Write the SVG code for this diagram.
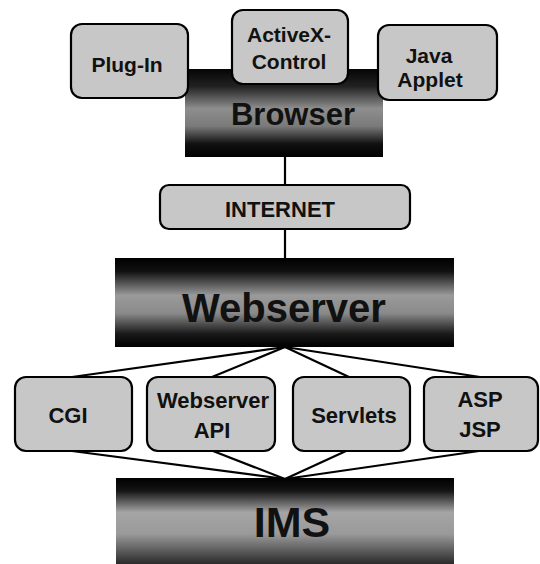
<svg xmlns="http://www.w3.org/2000/svg" width="540" height="564" viewBox="0 0 540 564">
<style>
.lb{fill:#c7c7c7;stroke:#000;stroke-width:2.2}
.dk{stroke:none}
.t{font-family:"Liberation Sans",Arial,sans-serif;font-weight:bold;fill:#111;text-anchor:middle}
.s{font-size:21px}
.m{font-size:22px}
.c{stroke:#000;stroke-width:2.2;fill:none}
</style>
<defs>
<linearGradient id="gB" x1="0" y1="0" x2="0" y2="1">
<stop offset="0" stop-color="#050505"/>
<stop offset="0.2" stop-color="#222"/>
<stop offset="0.45" stop-color="#8e8e8e"/>
<stop offset="0.65" stop-color="#7a7a7a"/>
<stop offset="0.85" stop-color="#111"/>
<stop offset="1" stop-color="#000"/>
</linearGradient>
<linearGradient id="gW" x1="0" y1="0" x2="0" y2="1">
<stop offset="0" stop-color="#000"/>
<stop offset="0.15" stop-color="#111"/>
<stop offset="0.42" stop-color="#9a9a9a"/>
<stop offset="0.62" stop-color="#8a8a8a"/>
<stop offset="0.85" stop-color="#1a1a1a"/>
<stop offset="1" stop-color="#000"/>
</linearGradient>
<linearGradient id="gI" x1="0" y1="0" x2="0" y2="1">
<stop offset="0" stop-color="#000"/>
<stop offset="0.15" stop-color="#151515"/>
<stop offset="0.4" stop-color="#a5a5a5"/>
<stop offset="0.65" stop-color="#9a9a9a"/>
<stop offset="1" stop-color="#2a2a2a"/>
</linearGradient>
</defs>
<rect width="540" height="564" fill="#fff"/>
<g id="connectors">
<line class="c" x1="285" y1="157" x2="285" y2="185"/>
<line class="c" x1="285" y1="229" x2="285" y2="258"/>
<line class="c" x1="285" y1="347" x2="72" y2="377"/>
<line class="c" x1="285" y1="347" x2="212" y2="377"/>
<line class="c" x1="285" y1="347" x2="349" y2="377"/>
<line class="c" x1="285" y1="347" x2="480" y2="377"/>
<line class="c" x1="72" y1="451" x2="285" y2="479"/>
<line class="c" x1="213" y1="451" x2="285" y2="479"/>
<line class="c" x1="346" y1="451" x2="285" y2="479"/>
<line class="c" x1="479" y1="451" x2="285" y2="479"/>
</g>
<g id="browser">
<rect class="dk" x="185" y="69" width="198" height="88" fill="url(#gB)"/>
<text class="t" x="293" y="125" font-size="31">Browser</text>
</g>
<g id="plugin">
<rect class="lb" x="71" y="24" width="117" height="74" rx="11"/>
<text class="t s" x="127" y="72">Plug-In</text>
</g>
<g id="activex">
<rect class="lb" x="232" y="10" width="116" height="74" rx="11"/>
<text class="t s" x="289" y="42">ActiveX-</text>
<text class="t s" x="289" y="69">Control</text>
</g>
<g id="java">
<rect class="lb" x="378" y="25" width="119" height="75" rx="11"/>
<text class="t s" x="429" y="63">Java</text>
<text class="t s" x="430" y="87">Applet</text>
</g>
<g id="internet">
<rect class="lb" x="160" y="185" width="250" height="44" rx="9"/>
<text class="t" x="280" y="217" font-size="22">INTERNET</text>
</g>
<g id="webserver">
<rect class="dk" x="115" y="258" width="339" height="89" fill="url(#gW)"/>
<text class="t" x="284" y="322" font-size="40">Webserver</text>
</g>
<g id="cgi">
<rect class="lb" x="15" y="377" width="117" height="74" rx="11"/>
<text class="t m" x="68" y="423">CGI</text>
</g>
<g id="api">
<rect class="lb" x="147" y="377" width="128" height="74" rx="11"/>
<text class="t m" x="213" y="408">Webserver</text>
<text class="t m" x="212" y="438">API</text>
</g>
<g id="servlets">
<rect class="lb" x="293" y="377" width="117" height="74" rx="11"/>
<text class="t m" x="354" y="423">Servlets</text>
</g>
<g id="asp">
<rect class="lb" x="424" y="377" width="114" height="74" rx="11"/>
<text class="t m" x="480" y="407">ASP</text>
<text class="t m" x="480" y="437">JSP</text>
</g>
<g id="ims">
<rect class="dk" x="116" y="478" width="338" height="86" fill="url(#gI)"/>
<text class="t" x="292" y="537" font-size="43">IMS</text>
</g>
</svg>
